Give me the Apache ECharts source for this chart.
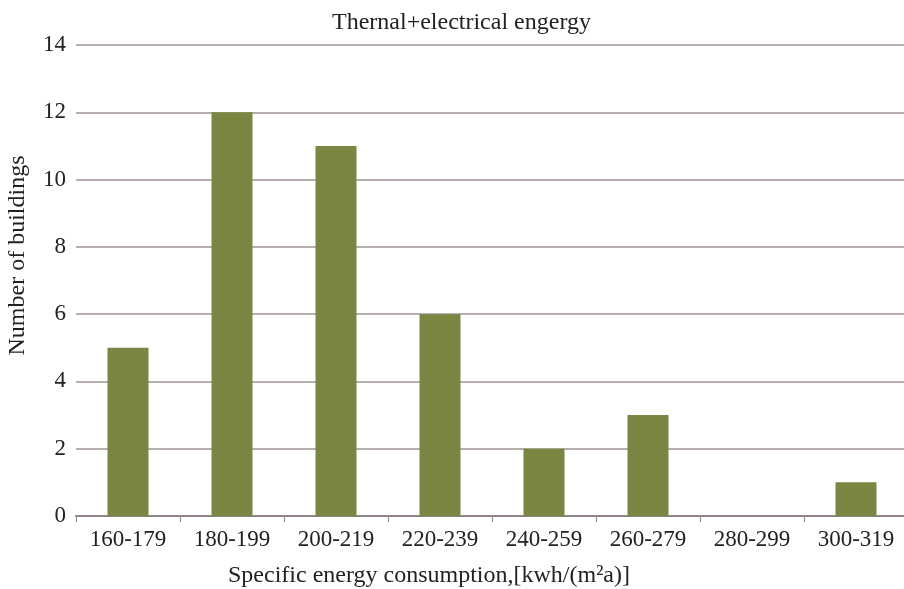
<!DOCTYPE html>
<html>
<head>
<meta charset="utf-8">
<script src="https://cdn.jsdelivr.net/npm/echarts@6/dist/echarts.min.js"></script>
<style>
  html, body { margin: 0; padding: 0; background: #fff; }
  #chart { width: 904px; height: 589px; }
</style>
</head>
<body>
<div id="chart"></div>
<script>
var categories = ['160-179', '180-199', '200-219', '220-239', '240-259', '260-279', '280-299', '300-319'];
var buildings = [5, 12, 11, 6, 2, 3, 0, 1];
var yTicks = [0, 2, 4, 6, 8, 10, 12, 14];

var myChart = echarts.init(document.getElementById('chart'));
var font = '"Liberation Serif", "DejaVu Serif", serif';

var option = {
    backgroundColor: '#fff',
    animation: false,
    title: {
        text: 'Thernal+electrical engergy',
        left: 327,
        top: 6,
        textStyle: { fontFamily: font, fontSize: 24, fontWeight: 'normal', color: '#222' }
    },
    grid: { left: 76, top: 45, width: 832, bottom: 73, outerBoundsMode: 'none', containLabel: false },
    xAxis: {
        type: 'category',
        data: categories,
        axisLine: { lineStyle: { color: '#8f8583', width: 2 } },
        axisTick: { show: true, length: 6, lineStyle: { color: '#8f8583' } },
        axisLabel: { fontFamily: font, fontSize: 23, color: '#222', margin: 12, interval: 0, hideOverlap: false },
        name: 'Specific energy consumption,[kwh/(m²a)]',
        nameLocation: 'middle',
        nameGap: 48,
        nameTextStyle: { fontFamily: font, fontSize: 24, color: '#222', padding: [0, 126, 0, 0] }
    },
    yAxis: {
        type: 'value',
        min: yTicks[0],
        max: yTicks[yTicks.length - 1],
        interval: 2,
        axisLine: { show: false },
        axisTick: { show: false },
        splitLine: { lineStyle: { color: '#9e9290', width: 1.5 } },
        axisLabel: { fontFamily: font, fontSize: 23, color: '#222', margin: 10 },
        name: 'Number of buildings',
        nameLocation: 'middle',
        nameGap: 46,
        nameTextStyle: { fontFamily: font, fontSize: 24, color: '#222', padding: [0, 0, 0, 50] }
    },
    series: [{
        type: 'bar',
        data: buildings,
        barWidth: 41,
        itemStyle: { color: '#7b8643' }
    }]
};

myChart.setOption(option);
</script>
</body>
</html>
